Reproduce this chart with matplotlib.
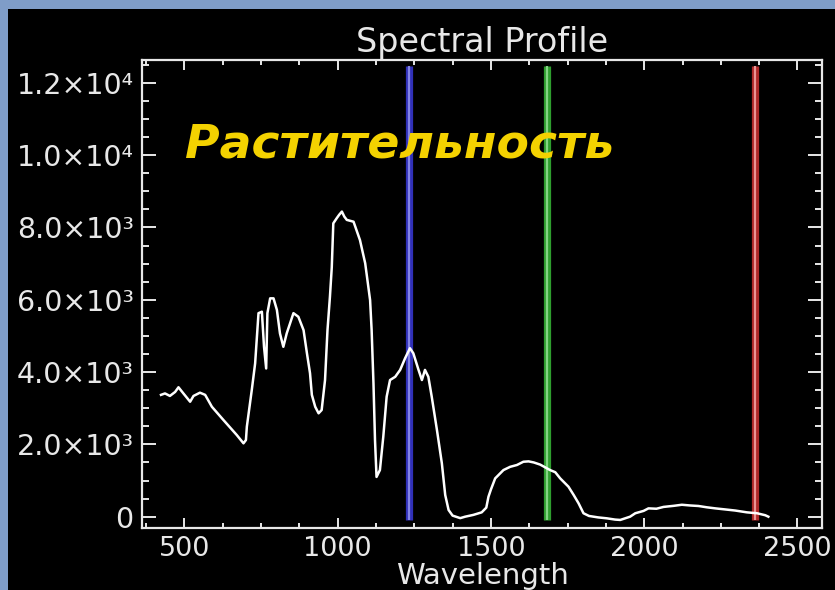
import matplotlib
matplotlib.use("Agg")
import matplotlib.pyplot as plt
from matplotlib.ticker import FixedLocator, MultipleLocator
from matplotlib.patches import Rectangle

# ---- data ----
wavelength = [424, 437, 453, 470, 481, 497, 519, 530, 551, 568, 590, 627, 671, 693, 701,
              704, 720, 731, 742, 753, 760, 767, 771, 780, 791, 802, 812, 823, 834, 856,
              872, 889, 900, 910, 916, 927, 938, 948, 959, 967, 975, 981, 986, 997, 1005,
              1014, 1022, 1030, 1052, 1073, 1090, 1106, 1111, 1117, 1122, 1127, 1138, 1149,
              1160, 1171, 1188, 1204, 1220, 1236, 1247, 1264, 1275, 1285, 1296, 1307, 1324,
              1340, 1351, 1362, 1375, 1400, 1416, 1443, 1470, 1485, 1492, 1500, 1514, 1541,
              1563, 1585, 1606, 1623, 1640, 1661, 1693, 1710, 1726, 1753, 1770, 1786, 1802,
              1820, 1850, 1878, 1905, 1922, 1954, 1971, 1998, 2014, 2040, 2063, 2096, 2123,
              2150, 2177, 2204, 2232, 2265, 2297, 2335, 2368, 2395, 2405]
reflectance = [3370, 3410, 3340, 3450, 3580, 3410, 3180, 3340, 3430, 3370, 3040, 2680, 2260, 2030, 2120,
               2490, 3500, 4240, 5630, 5670, 4700, 4100, 5630, 6040, 6040, 5720, 5070, 4700, 5070, 5630,
               5530, 5160, 4520, 3970, 3370, 3040, 2860, 2950, 3780, 5160, 6085, 6900, 8115, 8255, 8350,
               8440, 8300, 8210, 8160, 7650, 7010, 5990, 5160, 3690, 2120, 1100, 1290, 2210,
               3320, 3780, 3870, 4060, 4380, 4660, 4520, 4060, 3780, 4060, 3870, 3320, 2400,
               1480, 600, 185, 30, -40, 0, 50, 120, 250, 550, 750, 1060, 1290,
               1380, 1430, 1520, 1530, 1500, 1440, 1290, 1230, 1060, 830, 600, 370, 95,
               20, -20, -45, -80, -90, 0, 95, 160, 230, 220, 270, 300, 330,
               310, 296, 260, 230, 200, 170, 120, 95, 40, 0]

band_wavelengths = [1234, 1682, 2360]
band_dark = ["#3030b8", "#2e9e2e", "#b02828"]
band_light = ["#8484e4", "#84d484", "#ec9494"]

x_ticks = [500, 1000, 1500, 2000, 2500]
x_tick_labels = ["500", "1000", "1500", "2000", "2500"]
y_ticks = [0, 2000, 4000, 6000, 8000, 10000, 12000]
y_tick_labels = ["0", "2.0×10³", "4.0×10³", "6.0×10³", "8.0×10³", "1.0×10⁴", "1.2×10⁴"]

title = "Spectral Profile"
xlabel = "Wavelength"
annotation = "Растительность"

# ---- figure ----
W, H = 835, 590
fig = plt.figure(figsize=(W / 100, H / 100), dpi=100, facecolor="black")
# light blue frame on left and top
fig.patches.append(Rectangle((0, 0), 8 / W, 1, transform=fig.transFigure,
                             facecolor="#7f9dc8", edgecolor="none", zorder=-10))
fig.patches.append(Rectangle((0, 1 - 9 / H), 1, 9 / H, transform=fig.transFigure,
                             facecolor="#7f9dc8", edgecolor="none", zorder=-10))

ax = fig.add_axes([142 / W, (H - 528) / H, 680 / W, 468 / H])
ax.set_facecolor("black")

ax.set_xlim(362, 2580)
ax.set_ylim(-313, 12633)

ymin_band, ymax_band = -80, 12470
for wl, cd, cl in zip(band_wavelengths, band_dark, band_light):
    ax.plot([wl, wl], [ymin_band, ymax_band], color=cd, lw=5.2, solid_capstyle="butt", zorder=2)
    ax.plot([wl, wl], [ymin_band, ymax_band], color=cl, lw=1.6, solid_capstyle="butt", zorder=2)

ax.plot(wavelength, reflectance, color="white", lw=1.8, zorder=3)

for s in ax.spines.values():
    s.set_color("#e8e8e8")
    s.set_linewidth(1.6)

ax.xaxis.set_major_locator(FixedLocator(x_ticks))
ax.set_xticklabels(x_tick_labels)
ax.xaxis.set_minor_locator(MultipleLocator(125))
ax.yaxis.set_major_locator(FixedLocator(y_ticks))
ax.set_yticklabels(y_tick_labels)
ax.yaxis.set_minor_locator(MultipleLocator(500))

ax.tick_params(axis="both", which="both", direction="in", colors="#e8e8e8",
               top=True, right=True, width=1.4)
ax.tick_params(axis="x", which="major", length=7, pad=6, labelsize=19.5)
ax.tick_params(axis="x", which="minor", length=3.6)
ax.tick_params(axis="y", which="major", length=10, pad=6, labelsize=20.5)
ax.tick_params(axis="y", which="minor", length=5)
for lab in ax.get_xticklabels() + ax.get_yticklabels():
    lab.set_color("#e8e8e8")

ax.set_title(title, color="#e8e8e8", fontsize=24, pad=5.5)
ax.set_xlabel(xlabel, color="#e8e8e8", fontsize=21, labelpad=0)

ax.text(0.063, 0.792, annotation, transform=ax.transAxes, color="#f4d200",
        fontsize=34, fontweight="bold", fontstyle="oblique",
        family=["DejaVu Sans"], va="baseline", ha="left", zorder=4)

fig.savefig("out.png", dpi=100, facecolor="black")
